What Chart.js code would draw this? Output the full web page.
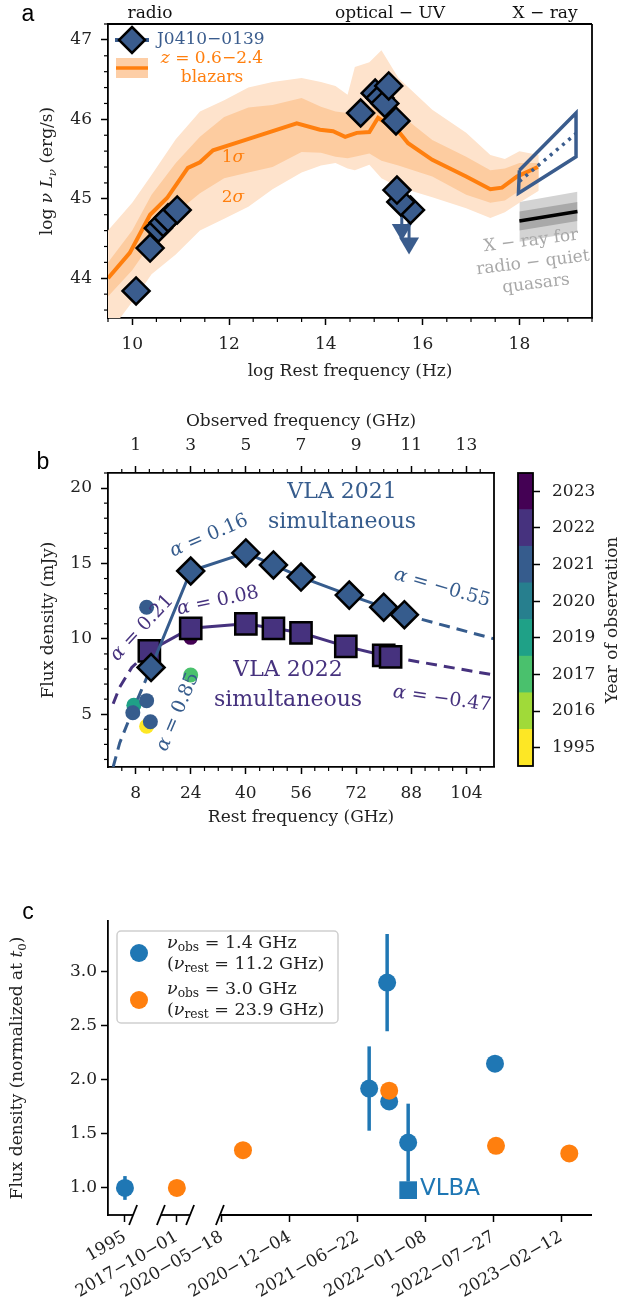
<!DOCTYPE html>
<html>
<head>
<meta charset="utf-8">
<script src="https://cdn.jsdelivr.net/npm/chart.js@4.4.1/dist/chart.umd.min.js"></script>
<style>
  body { margin: 0; background: #fff; width: 621px; height: 1306px; position: relative; overflow: hidden; }
  canvas { position: absolute; left: 0; }
</style>
</head>
<body>
<canvas id="chartA" width="621" height="390" style="top:0"></canvas>
<canvas id="chartB" width="621" height="440" style="top:390px"></canvas>
<canvas id="chartBar" width="111" height="360" style="left:510px;top:440px"></canvas>
<canvas id="chartC" width="621" height="426" style="top:880px"></canvas>
<script>
// ---------------- panel a: SED ----------------
const aXTicks = [10, 12, 14, 16, 18];
const aYTicks = [44, 45, 46, 47];

const sedX   = [9.5, 9.95, 10.37, 10.72, 11.15, 11.4, 11.67, 12.23, 13.4, 13.88, 14.15, 14.4, 14.64, 14.9, 15.08, 15.5, 15.7, 16.2, 16.9, 17.4, 17.64, 17.95, 18.38];
const sedMed = [44.0, 44.32, 44.8, 45.01, 45.39, 45.46, 45.61, 45.72, 45.95, 45.87, 45.85, 45.78, 45.83, 45.84, 46.02, 45.85, 45.7, 45.49, 45.28, 45.12, 45.14, 45.28, 45.4];

const bandX   = [9.5, 10.0, 10.4, 10.9, 11.4, 11.9, 12.4, 12.9, 13.5, 13.9, 14.2, 14.45, 14.6, 14.9, 15.15, 15.5, 16.2, 16.9, 17.4, 17.7, 18.0, 18.4];
const band2Up = [44.6, 44.95, 45.3, 45.75, 46.1, 46.24, 46.4, 46.47, 46.52, 46.47, 46.42, 46.31, 46.66, 46.72, 46.87, 46.52, 46.12, 45.83, 45.55, 45.5, 45.6, 45.55];
const band1Up = [44.2, 44.6, 45.05, 45.45, 45.78, 46.03, 46.15, 46.18, 46.27, 46.16, 46.1, 46.08, 46.12, 46.14, 46.28, 46.08, 45.74, 45.53, 45.36, 45.38, 45.45, 45.45];
const band1Lo = [43.77, 44.1, 44.45, 44.82, 45.07, 45.26, 45.33, 45.4, 45.59, 45.58, 45.53, 45.51, 45.53, 45.57, 45.48, 45.42, 45.28, 45.05, 44.95, 44.98, 45.1, 45.25];
const band2Lo = [43.3, 43.7, 44.05, 44.3, 44.6, 44.75, 44.9, 45.12, 45.33, 45.42, 45.45, 45.38, 45.36, 45.43, 45.26, 45.15, 45.02, 44.88, 44.76, 44.83, 44.95, 45.1];

const srcX = [10.08, 10.37, 10.54, 10.64, 10.74, 10.93, 14.72, 15.02, 15.12, 15.22, 15.3, 15.45, 15.75, 15.55, 15.47];
const srcY = [43.84, 44.38, 44.63, 44.7, 44.76, 44.86, 46.08, 46.33, 46.27, 46.2, 46.42, 45.98, 44.86, 44.96, 45.11];
const ulX = [15.57, 15.72];
const ulY = [44.96, 44.86];
const ulTip = [44.47, 44.3];

const xrayBoxX = [18.0, 19.17, 19.17, 17.98, 18.0];
const xrayBoxY = [45.36, 46.08, 45.53, 45.07, 45.36];
const xraySlopeX = [18.0, 19.17];
const xraySlopeY = [45.22, 45.82];

const rqX = [18.0, 19.2];
const rqMed = [44.72, 44.84];
const rq1Up = [44.84, 44.96];
const rq1Lo = [44.6, 44.72];
const rq2Up = [44.96, 45.09];
const rq2Lo = [44.46, 44.58];

// ---------------- panel b: espectro ----------------
const restTicks = [8, 24, 40, 56, 72, 88, 104];
const obsTicks = [1, 3, 5, 7, 9, 11, 13];
const bYTicks = [5, 10, 15, 20];

const vla21X = [12.5, 24, 40, 48, 56, 70, 80, 86];
const vla21Y = [8.1, 14.5, 15.7, 14.9, 14.1, 12.9, 12.1, 11.6];
const vla22X = [12, 24, 40, 48, 56, 69, 80, 82];
const vla22Y = [9.2, 10.7, 11.0, 10.7, 10.4, 9.5, 8.9, 8.8];

const b21HiX = [86, 99, 112];
const b21HiY = [11.6, 10.8, 10.0];
const b21LoX = [1.5, 3.4, 6.9, 9.7, 12.5];
const b21LoY = [1.5, 3.1, 5.1, 6.6, 8.1];
const b22HiX = [82, 97, 112];
const b22HiY = [8.8, 8.2, 7.6];
const b22LoX = [1.5, 3.4, 6.9, 12];
const b22LoY = [5.7, 6.8, 8.1, 9.2];

const histX = [11.2, 11.2, 24, 24, 7.5, 7.2, 11.2, 12.3];
const histY = [4.2, 12.1, 10.1, 7.6, 5.6, 5.1, 5.9, 4.5];
const histYear = ['1995', '2021', '2023', '2017', '2019', '2021', '2021', '2021'];

const cbYears = ['2023', '2022', '2021', '2020', '2019', '2017', '2016', '1995'];
const cbColors = ['#440154', '#46327e', '#365c8d', '#277f8e', '#1fa187', '#4ac16d', '#a0da39', '#fde725'];

// ---------------- panel c: curva de luz ----------------
const cTickLabels = ['1995', '2017−10−01', '2020−05−18', '2020−12−04', '2021−06−22', '2022−01−08', '2022−07−27', '2023−02−12'];
const cTickPos = [-286, -133, 0, 200, 400, 600, 800, 1000]; // días desde 2020-05-18 (antes del corte: posiciones del eje roto)
const cYTicks = [1.0, 1.5, 2.0, 2.5, 3.0];
const blueX = [-286, 434, 487, 493, 549, 805];
const blueY = [1.0, 1.92, 2.9, 1.8, 1.42, 2.15];
const blueErr = [0.11, 0.39, 0.45, 0, 0.36, 0];
const orangeX = [-133, 62, 493, 808, 1024];
const orangeY = [1.0, 1.35, 1.9, 1.39, 1.32];
const vlbaX = [549];
const vlbaY = [0.98];

// ---------------- helpers ----------------
const SERIF = '"DejaVu Serif"';
Chart.defaults.font.family = SERIF;
Chart.defaults.font.size = 17;
Chart.defaults.color = '#222';

const pts = (xs, ys) => xs.map((x, i) => ({ x, y: ys[i] }));
const BLUE_A = '#3a5c8d';
const ORANGE = '#ff7f0e';
const MPL_BLUE = '#1f77b4';

function richText(ctx, segs, x, y, size, color, align, angle) {
    ctx.save();
    ctx.translate(x, y);
    if (angle) ctx.rotate(angle * Math.PI / 180);
    ctx.fillStyle = color;
    ctx.textBaseline = 'middle';
    ctx.textAlign = 'left';
    const parts = segs.map(s => {
        if (typeof s === 'string') s = { t: s };
        const sz = s.sub ? size * 0.7 : size;
        const f = (s.it ? 'italic ' : '') + sz + 'px ' + (s.fam || SERIF);
        ctx.font = f;
        return { t: s.t, f, w: ctx.measureText(s.t).width, dy: s.sub ? size * 0.3 : 0 };
    });
    const total = parts.reduce((a, p) => a + p.w, 0);
    let cx = align === 'center' ? -total / 2 : align === 'right' ? -total : 0;
    parts.forEach(p => { ctx.font = p.f; ctx.fillText(p.t, cx, p.dy); cx += p.w; });
    ctx.restore();
}

function seg(ctx, x0, y0, x1, y1) {
    ctx.beginPath(); ctx.moveTo(x0, y0); ctx.lineTo(x1, y1); ctx.stroke();
}

function axisStyle(extra) {
    return Object.assign({
        grid: { drawOnChartArea: false, drawTicks: true, tickLength: 7, tickWidth: 1.5, tickColor: '#000' },
        border: { display: true, color: '#000', width: 1.8 }
    }, extra);
}

const baseOpts = {
    responsive: false,
    animation: false,
    events: [],
    plugins: { legend: { display: false }, tooltip: { enabled: false } }
};

// ---------------- panel a ----------------
const panelA = {
    id: 'panelA',
    beforeDatasetDraw(chart, args) {
        if (args.index !== 0) return;
        const { ctx, scales: { x, y } } = chart;
        ctx.save();
        ctx.strokeStyle = BLUE_A; ctx.fillStyle = BLUE_A; ctx.lineWidth = 3;
        ulX.forEach((v, i) => {
            const px = x.getPixelForValue(v);
            const y0 = y.getPixelForValue(ulY[i]);
            const y1 = y.getPixelForValue(ulTip[i]);
            seg(ctx, px, y0, px, y1 - 16);
            ctx.beginPath();
            ctx.moveTo(px - 10, y1 - 17); ctx.lineTo(px + 10, y1 - 17); ctx.lineTo(px, y1);
            ctx.closePath(); ctx.fill();
        });
        ctx.restore();
    },
    afterDraw(chart) {
        const { ctx, chartArea: a, scales: { x, y } } = chart;
        ctx.save();
        ctx.strokeStyle = '#000'; ctx.lineWidth = 1.8;
        seg(ctx, a.left, a.top, a.right, a.top);
        seg(ctx, a.right, a.top, a.right, a.bottom);
        ctx.lineWidth = 1.2;
        for (let k = 19; k <= 39; k++) {
            if (k % 4 === 0) continue;
            const px = x.getPixelForValue(k / 2);
            seg(ctx, px, a.bottom, px, a.bottom + 4);
        }
        for (let k = 218; k <= 236; k++) {
            if (k % 5 === 0) continue;
            const py = y.getPixelForValue(k / 5);
            seg(ctx, a.left, py, a.left - 4, py);
        }
        // legend
        ctx.strokeStyle = BLUE_A; ctx.lineWidth = 4;
        seg(ctx, 115, 40, 149, 40);
        ctx.fillStyle = BLUE_A; ctx.strokeStyle = '#000'; ctx.lineWidth = 2.5;
        ctx.beginPath(); ctx.moveTo(132, 27); ctx.lineTo(145, 40); ctx.lineTo(132, 53); ctx.lineTo(119, 40); ctx.closePath();
        ctx.fill(); ctx.stroke();
        ctx.fillStyle = 'rgb(253,206,166)';
        ctx.fillRect(116, 58, 32, 20);
        ctx.strokeStyle = ORANGE; ctx.lineWidth = 3.5;
        seg(ctx, 116, 68, 148, 68);
        ctx.restore();

        richText(ctx, ['J0410−0139'], 157, 40, 17, BLUE_A, 'left');
        richText(ctx, [{ t: 'z', it: true }, ' = 0.6−2.4'], 212, 59, 17, ORANGE, 'center');
        richText(ctx, ['blazars'], 212, 78, 17, ORANGE, 'center');
        richText(ctx, ['1', { t: 'σ', it: true }], 233, 158, 17, ORANGE, 'center');
        richText(ctx, ['2', { t: 'σ', it: true }], 233, 198, 17, ORANGE, 'center');
        richText(ctx, ['radio'], 150, 14, 17, '#111', 'center');
        richText(ctx, ['optical − UV'], 390, 14, 17, '#111', 'center');
        richText(ctx, ['X − ray'], 545, 14, 17, '#111', 'center');
        richText(ctx, ['X − ray for'], 531, 241, 17, '#a8a8a8', 'center', -7);
        richText(ctx, ['radio − quiet'], 533, 263, 17, '#a8a8a8', 'center', -7);
        richText(ctx, ['quasars'], 536, 284, 17, '#a8a8a8', 'center', -7);
        richText(ctx, ['log ', { t: 'ν', it: true }, ' ', { t: 'L', it: true }, { t: 'ν', it: true, sub: true }, ' (erg/s)'], 48, 171, 17, '#222', 'center', -90);
        richText(ctx, [{ t: 'a', fam: '"Liberation Sans"' }], 28, 15, 23, '#000', 'center');
    }
};

const lineDs = (data, color, width, extra) => Object.assign({
    data, borderColor: color, borderWidth: width, pointRadius: 0, fill: false, tension: 0
}, extra);

new Chart(document.getElementById('chartA'), {
    type: 'line',
    data: {
        datasets: [
            { data: pts(srcX, srcY), showLine: false, pointStyle: 'rectRot', pointRadius: 13.5,
              backgroundColor: BLUE_A, borderColor: '#000', pointBorderWidth: 2.5 },
            lineDs(pts(xrayBoxX, xrayBoxY), BLUE_A, 3.5),
            lineDs(pts(xraySlopeX, xraySlopeY), BLUE_A, 3.5, { borderDash: [3, 5] }),
            lineDs(pts(sedX, sedMed), ORANGE, 4),
            lineDs(pts(bandX, band1Up), 'rgba(0,0,0,0)', 0, { fill: '+1', backgroundColor: 'rgb(253,204,160)' }),
            lineDs(pts(bandX, band1Lo), 'rgba(0,0,0,0)', 0),
            lineDs(pts(bandX, band2Up), 'rgba(0,0,0,0)', 0, { fill: '+1', backgroundColor: 'rgb(254,227,204)' }),
            lineDs(pts(bandX, band2Lo), 'rgba(0,0,0,0)', 0),
            lineDs(pts(rqX, rqMed), '#000', 3.5),
            lineDs(pts(rqX, rq1Up), 'rgba(0,0,0,0)', 0, { fill: '+1', backgroundColor: '#a9a9a9' }),
            lineDs(pts(rqX, rq1Lo), 'rgba(0,0,0,0)', 0),
            lineDs(pts(rqX, rq2Up), 'rgba(0,0,0,0)', 0, { fill: '+1', backgroundColor: '#d3d3d3' }),
            lineDs(pts(rqX, rq2Lo), 'rgba(0,0,0,0)', 0)
        ]
    },
    options: Object.assign({}, baseOpts, {
        layout: { padding: { left: 0, right: 29, top: 24, bottom: 0 } },
        scales: {
            x: axisStyle({
                type: 'linear', min: 9.5, max: 19.5,
                afterBuildTicks: s => { s.ticks = aXTicks.map(v => ({ value: v })); },
                afterFit: s => { s.height = 72; },
                ticks: { padding: 9 },
                title: { display: true, text: 'log Rest frequency (Hz)', padding: { bottom: 8 } }
            }),
            y: axisStyle({
                type: 'linear', min: 43.5, max: 47.2,
                afterBuildTicks: s => { s.ticks = aYTicks.map(v => ({ value: v })); },
                afterFit: s => { s.width = 108; },
                ticks: { padding: 9 }
            })
        }
    }),
    plugins: [panelA]
});

// ---------------- panel b ----------------
const C21 = cbColors[cbYears.indexOf('2021')];
const C22 = cbColors[cbYears.indexOf('2022')];

const panelB = {
    id: 'panelB',
    afterDraw(chart) {
        const { ctx, chartArea: a, scales: { x, x2, y } } = chart;
        ctx.save();
        ctx.strokeStyle = '#000'; ctx.lineWidth = 1.8;
        seg(ctx, a.right, a.top, a.right, a.bottom);
        ctx.lineWidth = 1.2;
        for (let k = 1; k <= 27; k++) {
            if (k % 4 === 2) continue;
            const px = x.getPixelForValue(k * 4);
            seg(ctx, px, a.bottom, px, a.bottom + 4);
        }
        for (let k = 1; k <= 27; k++) {
            if (k % 4 === 2) continue;
            const px = x2.getPixelForValue(k / 2);
            seg(ctx, px, a.top, px, a.top - 4);
        }
        for (let v = 2; v <= 21; v++) {
            if (v % 5 === 0) continue;
            const py = y.getPixelForValue(v);
            seg(ctx, a.left, py, a.left - 4, py);
        }
        ctx.restore();
        const o = 390;
        richText(ctx, ['VLA 2021'], 342, 492 - o, 22, C21, 'center');
        richText(ctx, ['simultaneous'], 342, 522 - o, 22, C21, 'center');
        richText(ctx, ['VLA 2022'], 288, 670 - o, 22, C22, 'center');
        richText(ctx, ['simultaneous'], 288, 700 - o, 22, C22, 'center');
        const al = (v, px, py, col, ang) => richText(ctx, [{ t: 'α', it: true }, ' = ' + v], px, py - o, 19, col, 'center', ang);
        al('0.16', 209, 536, C21, -23);
        al('0.08', 218, 601, C22, -12);
        al('0.21', 142, 628, C22, -47);
        al('0.85', 178, 712, C21, -67);
        al('−0.55', 442, 588, C21, 16);
        al('−0.47', 442, 699, C22, 8);
        richText(ctx, [{ t: 'b', fam: '"Liberation Sans"' }], 43, 463 - o, 23, '#000', 'center');
    }
};

new Chart(document.getElementById('chartB'), {
    type: 'line',
    data: {
        datasets: [
            lineDs(pts(vla21X, vla21Y), C21, 3, { pointStyle: 'rectRot', pointRadius: 13.5, pointBackgroundColor: C21, pointBorderColor: '#000', pointBorderWidth: 2.5 }),
            lineDs(pts(b21HiX, b21HiY), C21, 3, { borderDash: [11, 7] }),
            lineDs(pts(b21LoX, b21LoY), C21, 3, { borderDash: [11, 7] }),
            lineDs(pts(vla22X, vla22Y), C22, 3, { pointStyle: 'rect', pointRadius: 15, pointBackgroundColor: C22, pointBorderColor: '#000', pointBorderWidth: 2.5 }),
            lineDs(pts(b22HiX, b22HiY), C22, 3, { borderDash: [11, 7] }),
            lineDs(pts(b22LoX, b22LoY), C22, 3, { borderDash: [11, 7] }),
            { data: pts(histX, histY), showLine: false, pointRadius: 7.5, borderWidth: 0,
              pointBackgroundColor: histYear.map(yr => cbColors[cbYears.indexOf(yr)]) }
        ]
    },
    options: Object.assign({}, baseOpts, {
        layout: { padding: { left: 0, right: 127, top: 0, bottom: 0 } },
        scales: {
            x: axisStyle({
                type: 'linear', min: 0, max: 112,
                afterBuildTicks: s => { s.ticks = restTicks.map(v => ({ value: v })); },
                afterFit: s => { s.height = 63; },
                ticks: { padding: 9 },
                title: { display: true, text: 'Rest frequency (GHz)', padding: { bottom: 2 } }
            }),
            x2: axisStyle({
                type: 'linear', position: 'top', min: 0, max: 14,
                afterBuildTicks: s => { s.ticks = obsTicks.map(v => ({ value: v })); },
                afterFit: s => { s.height = 83; },
                ticks: { padding: 10 },
                title: { display: true, text: 'Observed frequency (GHz)', padding: { top: 21 } }
            }),
            y: axisStyle({
                type: 'linear', min: 1.5, max: 21,
                afterBuildTicks: s => { s.ticks = bYTicks.map(v => ({ value: v })); },
                afterFit: s => { s.width = 108; },
                ticks: { padding: 9 },
                title: { display: true, text: 'Flux density (mJy)', padding: { top: 38 } }
            })
        }
    }),
    plugins: [panelB]
});

// ---------------- colorbar ----------------
new Chart(document.getElementById('chartBar'), {
    type: 'bar',
    data: {
        labels: cbYears,
        datasets: [{ data: cbYears.map(() => 1), backgroundColor: cbColors, borderWidth: 0,
                     categoryPercentage: 1, barPercentage: 1 }]
    },
    options: Object.assign({}, baseOpts, {
        indexAxis: 'y',
        layout: { padding: { left: 8, right: 0, top: 33, bottom: 34 } },
        scales: {
            x: { display: false, min: 0, max: 1 },
            y: {
                position: 'right',
                afterFit: s => { s.width = 88; },
                grid: { offset: false, drawOnChartArea: false, drawTicks: true, tickLength: 7, tickWidth: 1.5, tickColor: '#000' },
                border: { display: false },
                ticks: { padding: 12 }
            }
        }
    }),
    plugins: [{
        id: 'cbFrame',
        afterDraw(chart) {
            const { ctx, chartArea: a } = chart;
            ctx.save();
            ctx.strokeStyle = '#000'; ctx.lineWidth = 1.8;
            ctx.strokeRect(a.left, a.top, a.right - a.left, a.bottom - a.top);
            ctx.restore();
            richText(ctx, ['Year of observation'], 103, 180, 17, '#222', 'center', -90);
        }
    }]
});

// ---------------- panel c ----------------
const panelC = {
    id: 'panelC',
    beforeDatasetsDraw(chart) {
        const { ctx, scales: { x, y } } = chart;
        ctx.save();
        ctx.strokeStyle = MPL_BLUE; ctx.lineWidth = 3.5;
        blueX.forEach((v, i) => {
            if (!blueErr[i]) return;
            const px = x.getPixelForValue(v);
            seg(ctx, px, y.getPixelForValue(blueY[i] - blueErr[i]), px, y.getPixelForValue(blueY[i] + blueErr[i]));
        });
        ctx.restore();
    },
    afterDraw(chart) {
        const { ctx, chartArea: a, scales: { x } } = chart;
        ctx.save();
        ctx.strokeStyle = '#000'; ctx.lineWidth = 1.8;
        const pieces = [[x.min, -262], [-180, -94], [-6, x.max]];
        pieces.forEach(p => seg(ctx, x.getPixelForValue(p[0]), a.bottom, x.getPixelForValue(p[1]), a.bottom));
        [-262, -180, -94, -6].forEach(v => {
            const px = x.getPixelForValue(v);
            seg(ctx, px - 4, a.bottom + 10, px + 4, a.bottom - 10);
        });
        // legend
        ctx.fillStyle = 'rgba(255,255,255,0.85)';
        ctx.strokeStyle = '#cfcfcf'; ctx.lineWidth = 1.5;
        ctx.beginPath(); ctx.roundRect(117, 51, 221, 92, 4); ctx.fill(); ctx.stroke();
        ctx.fillStyle = MPL_BLUE;
        ctx.beginPath(); ctx.arc(139, 73, 9, 0, Math.PI * 2); ctx.fill();
        ctx.fillStyle = ORANGE;
        ctx.beginPath(); ctx.arc(139, 120, 9, 0, Math.PI * 2); ctx.fill();
        ctx.restore();
        const nu = [{ t: 'ν', it: true }];
        richText(ctx, nu.concat([{ t: 'obs', sub: true }, ' = 1.4 GHz']), 167, 63, 17.5, '#222', 'left');
        richText(ctx, ['('].concat(nu, [{ t: 'rest', sub: true }, ' = 11.2 GHz)']), 167, 84, 17.5, '#222', 'left');
        richText(ctx, nu.concat([{ t: 'obs', sub: true }, ' = 3.0 GHz']), 167, 109, 17.5, '#222', 'left');
        richText(ctx, ['('].concat(nu, [{ t: 'rest', sub: true }, ' = 23.9 GHz)']), 167, 130, 17.5, '#222', 'left');
        richText(ctx, [{ t: 'VLBA', fam: '"DejaVu Sans"' }], 420, 309, 23, MPL_BLUE, 'left');
        richText(ctx, [{ t: 'c', fam: '"Liberation Sans"' }], 28, 33, 23, '#000', 'center');
        richText(ctx, ['Flux density (normalized at ', { t: 't', it: true }, { t: '0', sub: true }, ')'], 18, 188, 17, '#222', 'center', -90);
    }
};

new Chart(document.getElementById('chartC'), {
    type: 'line',
    data: {
        datasets: [
            { data: pts(orangeX, orangeY), showLine: false, pointRadius: 9, borderWidth: 0, pointBackgroundColor: ORANGE },
            { data: pts(vlbaX, vlbaY), showLine: false, pointStyle: 'rect', pointRadius: 12.5, borderWidth: 0, pointBackgroundColor: MPL_BLUE },
            { data: pts(blueX, blueY), showLine: false, pointRadius: 9, borderWidth: 0, pointBackgroundColor: MPL_BLUE }
        ]
    },
    options: Object.assign({}, baseOpts, {
        layout: { padding: { left: 0, right: 29, top: 41, bottom: 0 } },
        scales: {
            x: {
                type: 'linear', min: -336, max: 1091,
                afterBuildTicks: s => { s.ticks = cTickPos.map(v => ({ value: v })); },
                afterFit: s => { s.height = 91; },
                grid: { drawOnChartArea: false, drawTicks: true, tickLength: 7, tickWidth: 1.5, tickColor: '#000' },
                border: { display: false },
                ticks: { minRotation: 30, maxRotation: 30, autoSkip: false, padding: 5, font: { size: 17 },
                         callback: v => cTickLabels[cTickPos.indexOf(v)] }
            },
            y: axisStyle({
                type: 'linear', min: 0.75, max: 3.47,
                afterBuildTicks: s => { s.ticks = cYTicks.map(v => ({ value: v })); },
                afterFit: s => { s.width = 108; },
                ticks: { padding: 4, callback: v => v.toFixed(1) }
            })
        }
    }),
    plugins: [panelC]
});
</script>
</body>
</html>
